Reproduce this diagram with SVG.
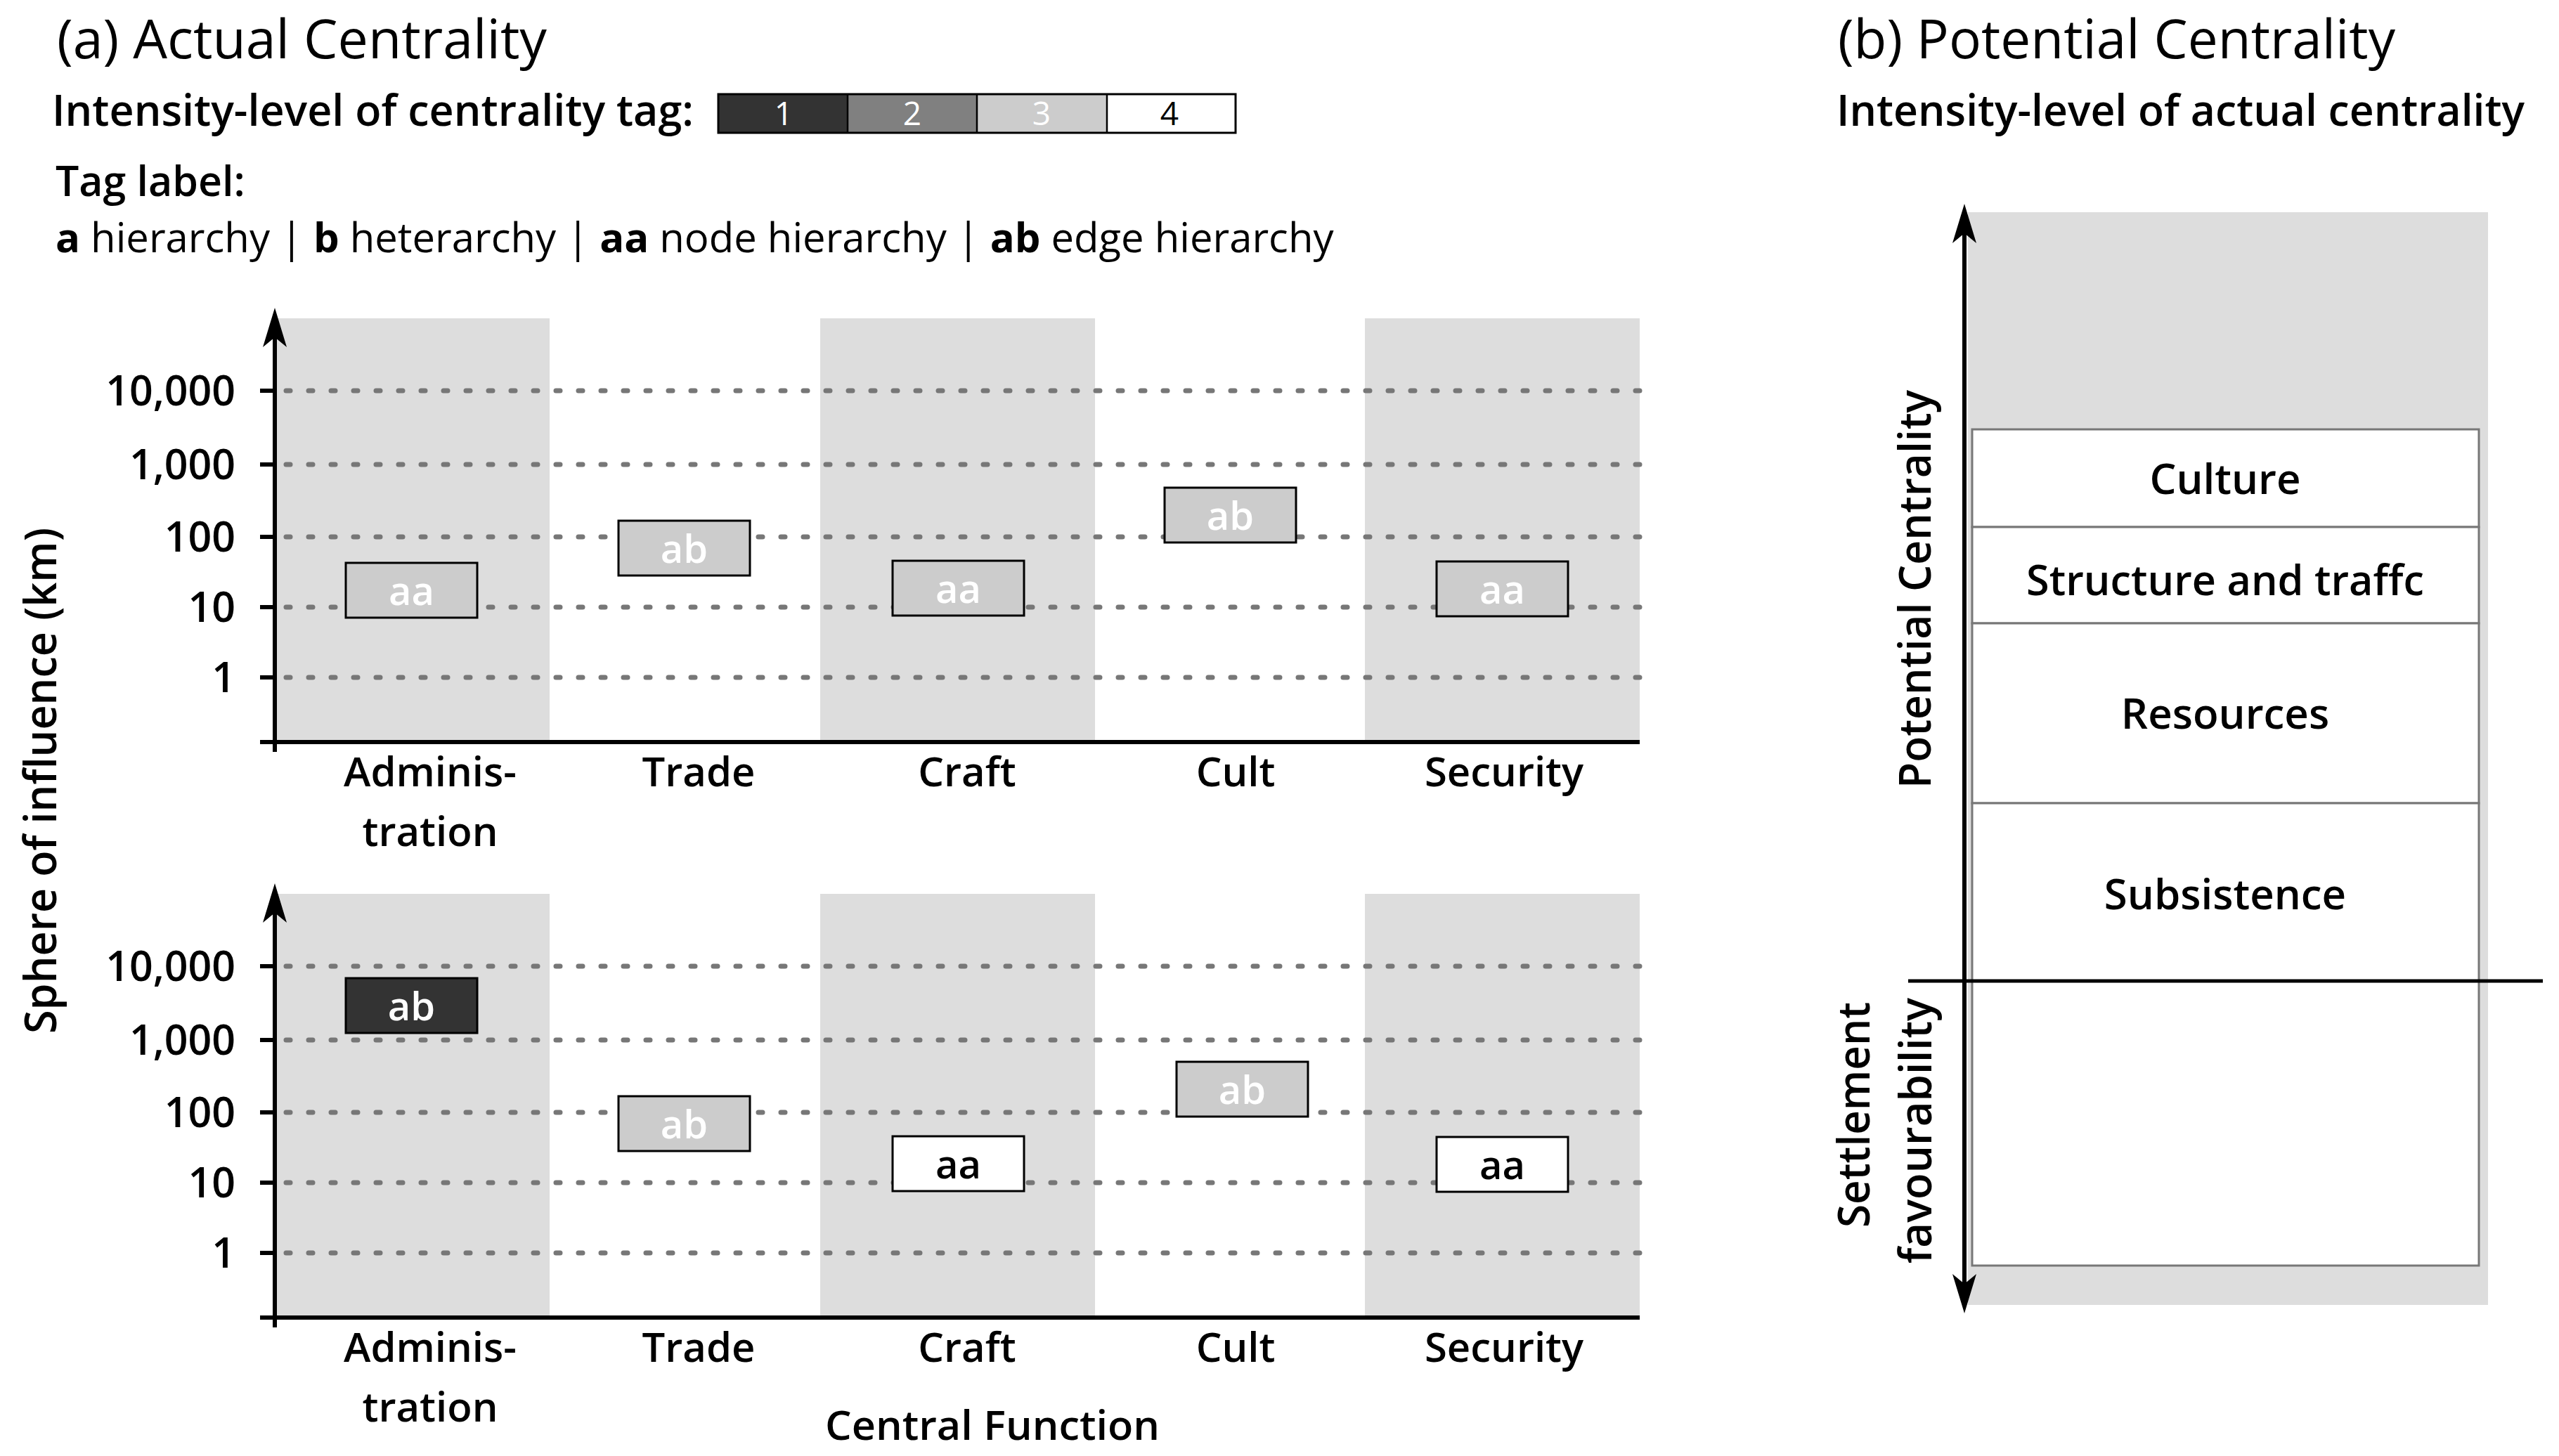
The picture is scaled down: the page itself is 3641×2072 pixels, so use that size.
<svg xmlns="http://www.w3.org/2000/svg" width="3641" height="2072" viewBox="0 0 3641 2072">
<defs>
<style>
text{font-family:"Open Sans","Noto Sans",sans-serif;fill:#000}
.title{font-size:76px;font-weight:400}
.sub{font-size:62px;font-weight:600}
.reg{font-weight:400}
.bld{font-weight:700}
.tick{font-size:59px;font-weight:600;text-anchor:end}
.cat{font-size:58px;font-weight:600;text-anchor:middle}
.tag{font-size:56px;font-weight:600;text-anchor:middle}
.w{fill:#fff}
.bg{fill:#dddddd}
.grid{stroke:#777;stroke-width:7;stroke-linecap:round;stroke-dasharray:6 26;fill:none}
.box{stroke:#000;stroke-width:3}
.axis{stroke:#000;stroke-width:6;fill:none}
.tk{stroke:#000;stroke-width:6}
.pbox{fill:#fff;stroke:#777;stroke-width:3}
.ptext{font-size:60px;font-weight:600;text-anchor:middle}
.vlab{font-size:64px;font-weight:600}
.leg{font-size:46px;font-weight:400;text-anchor:middle}
</style>
<marker id="ah" markerUnits="userSpaceOnUse" markerWidth="56" markerHeight="34" viewBox="0 0 56 34" refX="14" refY="17" orient="auto-start-reverse">
<path d="M0,0 L56,17 L0,34 L14,17 Z" fill="#000"/>
</marker>
</defs>
<rect width="3641" height="2072" fill="#fff"/>

<!-- Panel a header -->
<g id="title-a">
<text class="title" x="81" y="83" textLength="697" lengthAdjust="spacingAndGlyphs">(a) Actual Centrality</text>
</g>
<g id="legend-intensity">
<text class="sub" x="74" y="179" textLength="913" lengthAdjust="spacingAndGlyphs">Intensity-level of centrality tag:</text>
<rect x="1022" y="134" width="184" height="55" fill="#333"/>
<rect x="1206" y="134" width="184" height="55" fill="#808080"/>
<rect x="1390" y="134" width="185" height="55" fill="#cccccc"/>
<rect x="1575" y="134" width="183" height="55" fill="#fff"/>
<rect x="1022" y="134" width="736" height="55" fill="none" stroke="#000" stroke-width="3"/>
<line x1="1206" y1="134" x2="1206" y2="189" stroke="#000" stroke-width="2.5"/>
<line x1="1390" y1="134" x2="1390" y2="189" stroke="#000" stroke-width="2.5"/>
<line x1="1575" y1="134" x2="1575" y2="189" stroke="#000" stroke-width="2.5"/>
<text class="leg w" x="1115" y="178">1</text>
<text class="leg w" x="1298" y="178">2</text>
<text class="leg w" x="1482" y="178">3</text>
<text class="leg" x="1664" y="178">4</text>
</g>
<g id="legend-taglabel">
<text font-size="58"><tspan x="79" y="279" font-size="59" font-weight="600">Tag label:</tspan><tspan x="79" y="359" class="bld">a</tspan><tspan class="reg"> hierarchy | </tspan><tspan class="bld">b</tspan><tspan class="reg"> heterarchy | </tspan><tspan class="bld">aa</tspan><tspan class="reg"> node hierarchy | </tspan><tspan class="bld">ab</tspan><tspan class="reg"> edge hierarchy</tspan></text>
</g>

<!-- Chart backgrounds and grids -->
<g id="chart-top-bg">
<rect class="bg" x="391" y="453" width="391" height="603"/>
<rect class="bg" x="1167" y="453" width="391" height="603"/>
<rect class="bg" x="1942" y="453" width="391" height="603"/>
<path class="grid" d="M407,556H2333M407,661H2333M407,764H2333M407,864H2333M407,964H2333"/>
</g>
<g id="chart-bottom-bg">
<rect class="bg" x="391" y="1272" width="391" height="603"/>
<rect class="bg" x="1167" y="1272" width="391" height="603"/>
<rect class="bg" x="1942" y="1272" width="391" height="603"/>
<path class="grid" d="M407,1375H2333M407,1480H2333M407,1583H2333M407,1683H2333M407,1783H2333"/>
</g>

<!-- Y-axis labels -->
<g id="yticks-top">
<text class="tick" x="335" y="577">10,000</text>
<text class="tick" x="335" y="682">1,000</text>
<text class="tick" x="335" y="785">100</text>
<text class="tick" x="335" y="885">10</text>
<text class="tick" x="335" y="985">1</text>
</g>
<g id="yticks-bottom">
<text class="tick" x="335" y="1396">10,000</text>
<text class="tick" x="335" y="1501">1,000</text>
<text class="tick" x="335" y="1604">100</text>
<text class="tick" x="335" y="1704">10</text>
<text class="tick" x="335" y="1804">1</text>
</g>
<g id="y-axis-title">
<text class="vlab" transform="translate(80,1111) rotate(-90)" text-anchor="middle" textLength="720" lengthAdjust="spacingAndGlyphs">Sphere of  influence (km)</text>
</g>

<!-- Category labels -->
<g id="categories-top">
<text class="cat" x="612" y="1119">Adminis-</text>
<text class="cat" x="612" y="1204">tration</text>
<text class="cat" x="994" y="1119">Trade</text>
<text class="cat" x="1376" y="1119">Craft</text>
<text class="cat" x="1758" y="1119">Cult</text>
<text class="cat" x="2140" y="1119">Security</text>
</g>
<g id="categories-bottom">
<text class="cat" x="612" y="1938">Adminis-</text>
<text class="cat" x="612" y="2023">tration</text>
<text class="cat" x="994" y="1938">Trade</text>
<text class="cat" x="1376" y="1938">Craft</text>
<text class="cat" x="1758" y="1938">Cult</text>
<text class="cat" x="2140" y="1938">Security</text>
</g>
<g id="x-axis-title">
<text class="cat" x="1412" y="2049" textLength="476" lengthAdjust="spacingAndGlyphs">Central Function</text>
</g>

<!-- Tag boxes top -->
<g id="tag-top-administration"><rect class="box" x="492" y="801" width="187" height="78" fill="#cccccc"/><text class="tag w" x="585.5" y="861">aa</text></g>
<g id="tag-top-trade"><rect class="box" x="880" y="741" width="187" height="78" fill="#cccccc"/><text class="tag w" x="973.5" y="801">ab</text></g>
<g id="tag-top-craft"><rect class="box" x="1270" y="798" width="187" height="78" fill="#cccccc"/><text class="tag w" x="1363.5" y="858">aa</text></g>
<g id="tag-top-cult"><rect class="box" x="1657" y="694" width="187" height="78" fill="#cccccc"/><text class="tag w" x="1750.5" y="754">ab</text></g>
<g id="tag-top-security"><rect class="box" x="2044" y="799" width="187" height="78" fill="#cccccc"/><text class="tag w" x="2137.5" y="859">aa</text></g>

<!-- Tag boxes bottom -->
<g id="tag-bottom-administration"><rect class="box" x="492" y="1392" width="187" height="78" fill="#333"/><text class="tag w" x="585.5" y="1452">ab</text></g>
<g id="tag-bottom-trade"><rect class="box" x="880" y="1560" width="187" height="78" fill="#cccccc"/><text class="tag w" x="973.5" y="1620">ab</text></g>
<g id="tag-bottom-craft"><rect class="box" x="1270" y="1617" width="187" height="78" fill="#fff"/><text class="tag" x="1363.5" y="1677">aa</text></g>
<g id="tag-bottom-cult"><rect class="box" x="1674" y="1511" width="187" height="78" fill="#cccccc"/><text class="tag w" x="1767.5" y="1571">ab</text></g>
<g id="tag-bottom-security"><rect class="box" x="2044" y="1618" width="187" height="78" fill="#fff"/><text class="tag" x="2137.5" y="1678">aa</text></g>

<!-- Panel b -->
<g id="title-b">
<text class="title" x="2615" y="83" textLength="793" lengthAdjust="spacingAndGlyphs">(b) Potential Centrality</text>
<text class="sub" x="2613" y="179" textLength="979" lengthAdjust="spacingAndGlyphs">Intensity-level of actual centrality</text>
</g>
<g id="panel-b-bg"><rect class="bg" x="2800" y="302" width="740" height="1555"/></g>
<g id="level-culture"><rect class="pbox" x="2806" y="611" width="721" height="139"/><text class="ptext" x="3166" y="703">Culture</text></g>
<g id="level-structure"><rect class="pbox" x="2806" y="750" width="721" height="137"/><text class="ptext" x="3166" y="847" textLength="566" lengthAdjust="spacingAndGlyphs">Structure and traffc</text></g>
<g id="level-resources"><rect class="pbox" x="2806" y="887" width="721" height="256"/><text class="ptext" x="3166" y="1037">Resources</text></g>
<g id="level-subsistence"><rect class="pbox" x="2806" y="1143" width="721" height="253"/><text class="ptext" x="3166" y="1294">Subsistence</text></g>
<g id="level-settlement"><rect class="pbox" x="2806" y="1396" width="721" height="405"/></g>
<g id="panel-b-labels">
<text class="vlab" font-weight="500" transform="translate(2747,1122) rotate(-90)" textLength="567" lengthAdjust="spacingAndGlyphs">Potential Centrality</text>
<text class="vlab" font-weight="500" transform="translate(2660,1426) rotate(-90)" text-anchor="end" textLength="321" lengthAdjust="spacingAndGlyphs">Settlement</text>
<text class="vlab" font-weight="500" transform="translate(2748,1420) rotate(-90)" text-anchor="end" textLength="378" lengthAdjust="spacingAndGlyphs">favourability</text>
</g>

<!-- Connectors: axes and arrows -->
<g id="connectors">
<line class="axis" x1="391" y1="1070" x2="391" y2="480" marker-end="url(#ah)"/>
<line class="axis" x1="370" y1="1056" x2="2333" y2="1056"/>
<path class="tk" d="M370,556H391M370,661H391M370,764H391M370,864H391M370,964H391"/>
<line class="axis" x1="391" y1="1889" x2="391" y2="1299" marker-end="url(#ah)"/>
<line class="axis" x1="370" y1="1875" x2="2333" y2="1875"/>
<path class="tk" d="M370,1375H391M370,1480H391M370,1583H391M370,1683H391M370,1783H391"/>
<line class="axis" x1="2795" y1="1827" x2="2795" y2="332" stroke-width="5" marker-start="url(#ah)" marker-end="url(#ah)"/>
<line x1="2715" y1="1396" x2="3618" y2="1396" stroke="#000" stroke-width="5"/>
</g>
</svg>
